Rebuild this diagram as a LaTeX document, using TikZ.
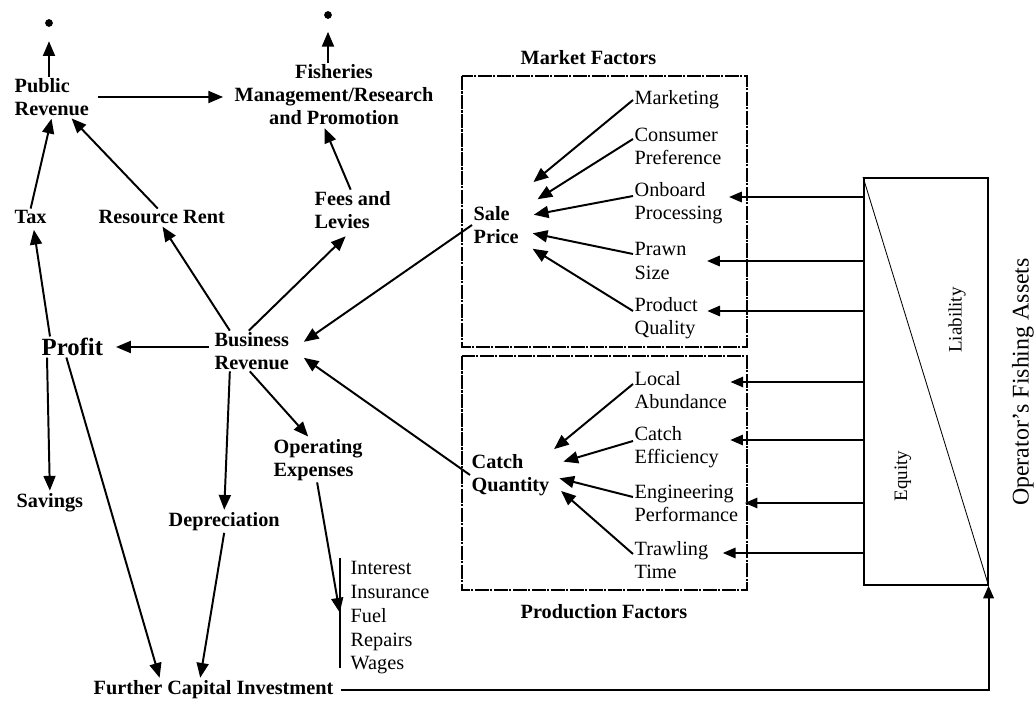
\documentclass[tikz,border=0pt]{standalone}
\usepackage{fontspec}
\setmainfont{Liberation Serif}
\usepackage{tikz}
\usetikzlibrary{calc}
\usetikzlibrary{arrows.meta}
\tikzset{
  lbl/.style={font=\fontsize{14.4}{16.4}\selectfont\bfseries, inner sep=1pt, align=left, anchor=west},
  itm/.style={font=\fontsize{14.4}{16.4}\selectfont, inner sep=1pt, align=left, anchor=west},
  link/.style={line width=1.4pt, -{Triangle[length=10.5pt,width=8.5pt]}, shorten >=1pt},
  feed/.style={line width=1pt, -{Triangle[length=9pt,width=7.5pt]}},
  fbox/.style={line width=0.9pt, dash pattern=on 10pt off 1pt on 1.5pt off 1pt},
  dot/.style={circle, fill, inner sep=0pt, minimum size=5.5pt}
}

\begin{document}
\begin{tikzpicture}[x=0.025cm, y=-0.025cm]
\useasboundingbox (0,0) rectangle (1035,702);
\node[dot] (toppr) at (49,23) {};
\node[dot] (topfish) at (328,15) {};
\node[lbl] (pubrev) at (13,97) {Public\\Revenue};
\node[lbl, align=center, anchor=center] (fish) at (334,95) {Fisheries\\Management/Research\\and Promotion};
\node[lbl] (tax) at (13,217) {Tax};
\node[lbl] (rent) at (97,217) {Resource Rent};
\node[lbl] (fees) at (313,210) {Fees and\\Levies};
\node[lbl, font=\fontsize{17.6}{20}\selectfont\bfseries] (profit) at (40,347) {Profit};
\node[lbl] (busrev) at (213,351) {Business\\Revenue};
\node[lbl] (savings) at (15,503) {Savings};
\node[lbl] (deprec) at (167,522) {Depreciation};
\node[lbl] (opex) at (272,460) {Operating\\Expenses};
\node[itm, font=\fontsize{14.4}{16.9}\selectfont] (costs) at (349,618) {Interest\\Insurance\\Fuel\\Repairs\\Wages};
\node[lbl] (fci) at (92,690) {Further Capital Investment};
\node[lbl] (sale) at (472,225) {Sale\\Price};
\node[lbl] (catch) at (470,475) {Catch\\Quantity};
\node[lbl] (mktlbl) at (519,58) {Market Factors};
\node[lbl] (prodlbl) at (519,612) {Production Factors};
\node[itm] (mkt) at (633,100) {Marketing};
\foreach \n/\a/\b/\y in {pref/Consumer/Preference/146, onb/Onboard/Processing/203, prawn/Prawn/Size/261, prod/Product/Quality/318, local/Local/Abundance/390, eff/Catch/Efficiency/447, eng/Engineering/Performance/503, trawl/Trawling/Time/560}
  \node[itm] (\n) at (633,\y) {\a\\\b};
\draw[fbox] (462,76) rectangle (747,347);
\draw[fbox] (462,356) rectangle (747,590);
\node[draw, line width=1.1pt, inner sep=0pt, minimum width=3.1cm, minimum height=10.175cm, anchor=north west] (assets) at (863,177) {};
\draw[line width=0.6pt] (assets.north west) -- (assets.south east);
\node[itm, anchor=center, rotate=90, font=\fontsize{13.5}{16}\selectfont] (liab) at (957,320) {Liability};
\node[itm, anchor=center, rotate=90, font=\fontsize{13.5}{16}\selectfont] (equity) at (903,476) {Equity};
\node[itm, anchor=center, rotate=90, font=\fontsize{17}{20}\selectfont] (owner) at (1023,382) {Operator's Fishing Assets};
\draw[link, shorten >=10pt] (toppr |- pubrev.north) -- (toppr);
\draw[link, shorten >=9pt] (topfish |- fish.north) -- (topfish);
\draw[link, shorten <=5pt, shorten >=7pt] (pubrev.east) -- (pubrev.east -| fish.west);
\draw[link] (tax.north) -- (pubrev.south);
\draw[link] ($(rent.north)+(-4,0)$) -- ($(pubrev.south east)+(-20,0)$);
\draw[link] ($(fees.north)+(-2,0)$) -- ($(fish.south)+(-10,0)$);
\draw[link] ($(busrev.north)+(-22,0)$) -- (rent.south);
\draw[link] ($(busrev.north)+(-3,0)$) -- ($(fees.south)+(-6,5)$);
\draw[link] (sale.west) -- ($(busrev.north east)+(12,12)$);
\draw[link] (catch.west) -- ($(busrev.east)+(12,6)$);
\draw[link, shorten <=3pt, shorten >=8pt] (busrev.west |- profit.east) -- (profit.east);
\draw[link] ($(profit.north west)+(10,0)$) -- ($(tax.south)+(3,3)$);
\draw[link] ($(profit.south west)+(7,0)$) -- (savings.north);
\draw[link] ($(profit.south)+(-6,0)$) -- ($(fci.north west)+(68,0)$);
\draw[link] ($(busrev.south)+(-22,0)$) -- (deprec.north);
\draw[link] (deprec.south) -- ($(fci.north west)+(108,0)$);
\draw[link] ($(busrev.south)+(-2,0)$) -- ($(opex.north)+(-9,0)$);
\coordinate (bartop) at (340,558);
\coordinate (barbot) at (340,668);
\coordinate (barmid) at (340,614);
\draw[line width=1.4pt] (bartop) -- (barbot);
\draw[link] ($(opex.south)+(-1,0)$) -- (barmid);
\draw[link] (mkt.west) -- ($(sale.east)+(12,-42)$);
\foreach \n/\dx/\dy in {pref/16/-25, onb/12/-10, prawn/11/8, prod/11/23}
  \draw[link] ($(\n.west)+(0,-7)$) -- ($(sale.east)+(\dx,\dy)$);
\foreach \n/\dx/\dy in {local/2/-25, eff/11/-13, eng/7/3, trawl/9/15}
  \draw[link] ($(\n.west)+(0,-6)$) -- ($(catch.east)+(\dx,\dy)$);
\foreach \n/\g/\dy in {onb/5/-6, prawn/19/0, prod/8/-7, local/2/-8, eff/10/-7, eng/5/0, trawl/13/-7}
  \draw[feed] ($(assets.west |- \n.east)+(0,\dy)$) -- ($(\n.east)+(\g,\dy)$);
\draw[feed, line width=1.3pt, shorten <=4pt] (fci.east) -- (fci.east -| assets.south east) -- (assets.south east);
\end{tikzpicture}
\end{document}
